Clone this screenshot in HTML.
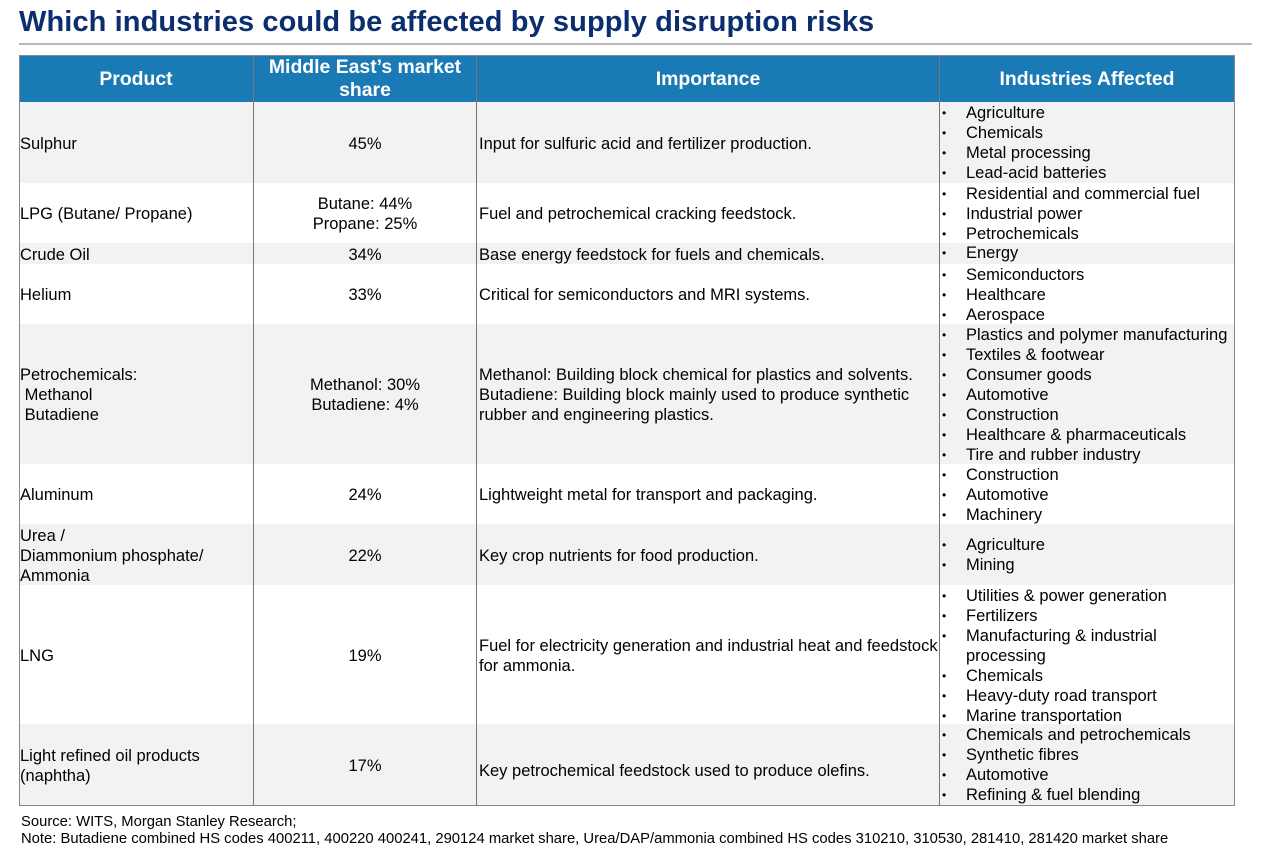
<!DOCTYPE html>
<html><head><meta charset="utf-8"><style>
body{margin:0;width:1277px;height:856px;background:#fff;font-family:"Liberation Sans",Arial,sans-serif;position:relative;overflow:hidden;color:#000}
.t{position:absolute;left:19px;top:6px;font-size:29px;font-weight:bold;color:#0b2e6f;letter-spacing:0.1px}
.rule{position:absolute;left:19px;top:43px;width:1233px;height:2px;background:#b8b8b8}
.hdr{position:absolute;top:56px;height:46px;background:#1a7ab5;color:#fff;font-weight:bold;font-size:19.4px;display:flex;align-items:center;justify-content:center;text-align:center;line-height:23px;box-sizing:border-box;border-right:1px solid #777}
.row{position:absolute;left:19px;width:1215px;box-sizing:border-box}
.c{position:absolute;top:0;bottom:0;display:flex;align-items:center;font-size:16.5px;line-height:20px;box-sizing:border-box;border-right:1px solid #777;padding-top:2px}
.c1{left:0;width:235px;padding-left:1px}
.c2{left:235px;width:223px;justify-content:center;text-align:center}
.c3{left:458px;width:463px;padding-left:2px;white-space:nowrap}
.c4{left:921px;width:294px;align-items:flex-start;padding-top:1px;display:block;border-right:none}
.c4 div{position:relative;padding-left:26px;height:20px;white-space:nowrap}
.c4 div:before{content:"•";position:absolute;left:2px;font-size:12px}
.c4 div.nb:before{content:""}
.g{background:#f2f2f2}
.src{position:absolute;left:21px;font-size:14.8px}
.frame{position:absolute;left:19px;top:55px;width:1216px;height:751px;border:1px solid #888;box-sizing:border-box;z-index:5}
</style></head><body>
<div class="t">Which industries could be affected by supply disruption risks</div>
<div class="rule"></div>
<div class="hdr" style="left:19px;width:235px">Product</div>
<div class="hdr" style="left:254px;width:223px">Middle East’s market<br>share</div>
<div class="hdr" style="left:477px;width:463px">Importance</div>
<div class="hdr" style="left:940px;width:294px;border-right:none">Industries Affected</div>

<div class="row g" style="top:102px;height:81px"><div class="c c1">Sulphur</div><div class="c c2">45%</div><div class="c c3">Input for sulfuric acid and fertilizer production.</div><div class="c c4"><div>Agriculture</div><div>Chemicals</div><div>Metal processing</div><div>Lead-acid batteries</div></div></div>
<div class="row" style="top:183px;height:60px"><div class="c c1">LPG (Butane/ Propane)</div><div class="c c2">Butane: 44%<br>Propane: 25%</div><div class="c c3">Fuel and petrochemical cracking feedstock.</div><div class="c c4"><div>Residential and commercial fuel</div><div>Industrial power</div><div>Petrochemicals</div></div></div>
<div class="row g" style="top:243px;height:21px"><div class="c c1">Crude Oil</div><div class="c c2">34%</div><div class="c c3">Base energy feedstock for fuels and chemicals.</div><div class="c c4" style="padding-top:0"><div>Energy</div></div></div>
<div class="row" style="top:264px;height:60px"><div class="c c1">Helium</div><div class="c c2">33%</div><div class="c c3">Critical for semiconductors and MRI systems.</div><div class="c c4"><div>Semiconductors</div><div>Healthcare</div><div>Aerospace</div></div></div>
<div class="row g" style="top:324px;height:140px"><div class="c c1">Petrochemicals:<br>&nbsp;Methanol<br>&nbsp;Butadiene</div><div class="c c2">Methanol: 30%<br>Butadiene: 4%</div><div class="c c3">Methanol: Building block chemical for plastics and solvents.<br>Butadiene: Building block mainly used to produce synthetic<br>rubber and engineering plastics.</div><div class="c c4"><div>Plastics and polymer manufacturing</div><div>Textiles &amp; footwear</div><div>Consumer goods</div><div>Automotive</div><div>Construction</div><div>Healthcare &amp; pharmaceuticals</div><div>Tire and rubber industry</div></div></div>
<div class="row" style="top:464px;height:60px"><div class="c c1">Aluminum</div><div class="c c2">24%</div><div class="c c3">Lightweight metal for transport and packaging.</div><div class="c c4"><div>Construction</div><div>Automotive</div><div>Machinery</div></div></div>
<div class="row g" style="top:524px;height:61px"><div class="c c1">Urea /<br>Diammonium phosphate/<br>Ammonia</div><div class="c c2">22%</div><div class="c c3">Key crop nutrients for food production.</div><div class="c c4" style="padding-top:11px"><div>Agriculture</div><div>Mining</div></div></div>
<div class="row" style="top:585px;height:139px"><div class="c c1">LNG</div><div class="c c2">19%</div><div class="c c3">Fuel for electricity generation and industrial heat and feedstock<br>for ammonia.</div><div class="c c4"><div>Utilities &amp; power generation</div><div>Fertilizers</div><div>Manufacturing &amp; industrial</div><div class="nb">processing</div><div>Chemicals</div><div>Heavy-duty road transport</div><div>Marine transportation</div></div></div>
<div class="row g" style="top:724px;height:81px"><div class="c c1">Light refined oil products<br>(naphtha)</div><div class="c c2">17%</div><div class="c c3" style="padding-top:12px">Key petrochemical feedstock used to produce olefins.</div><div class="c c4"><div>Chemicals and petrochemicals</div><div>Synthetic fibres</div><div>Automotive</div><div>Refining &amp; fuel blending</div></div></div>
<div class="frame"></div>

<div class="src" style="top:814px">Source: WITS, Morgan Stanley Research;</div>
<div class="src" style="top:831px">Note: Butadiene combined HS codes 400211, 400220 400241, 290124 market share, Urea/DAP/ammonia combined HS codes 310210, 310530, 281410, 281420 market share</div>
</body></html>
